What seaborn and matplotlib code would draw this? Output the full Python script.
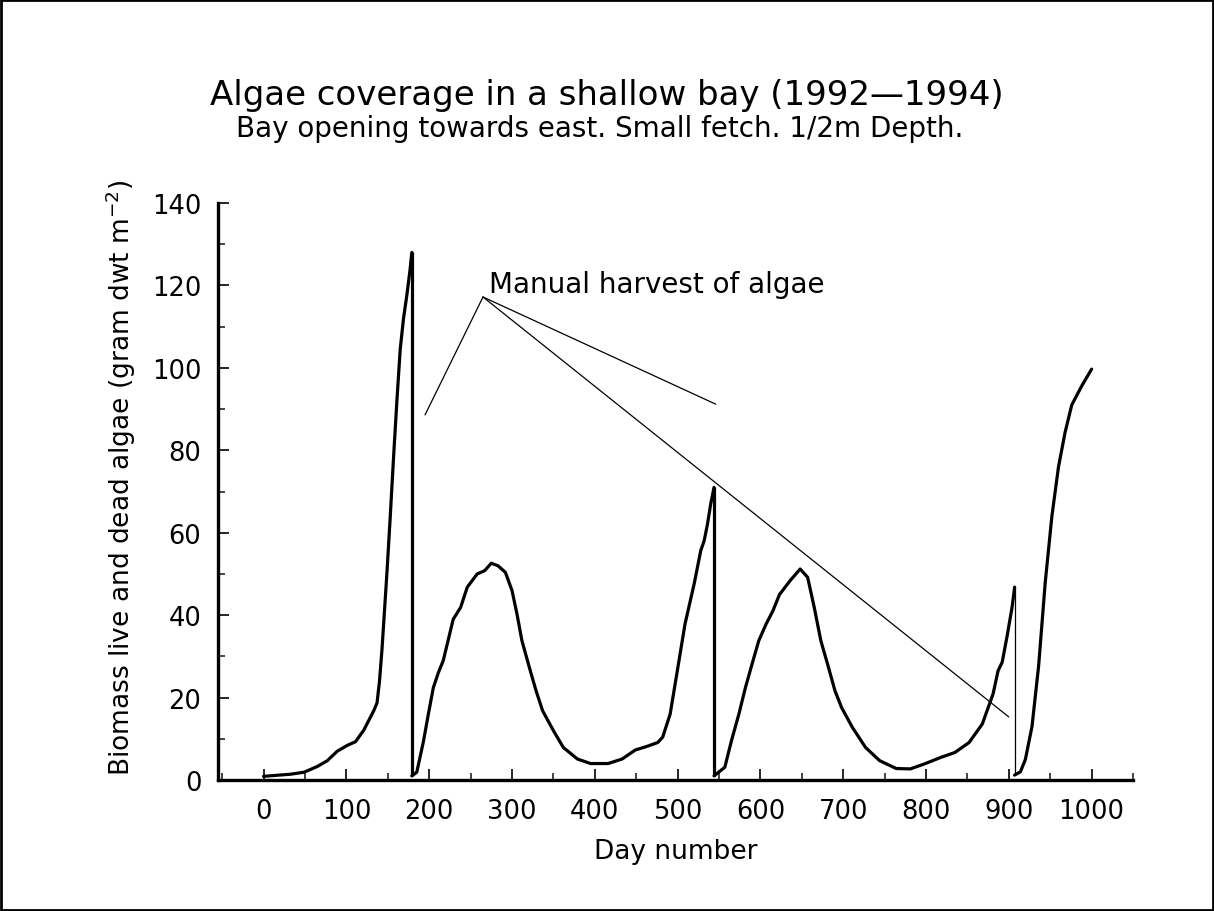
import matplotlib
matplotlib.use("Agg")
import matplotlib.pyplot as plt
import seaborn as sns
import pandas as pd
from matplotlib.patches import Rectangle

# ---- data ----
seg1_days = [0, 32, 49, 65, 77, 89, 101, 111, 121, 133, 137, 140, 143, 146, 149, 153, 157, 161,
             165, 169, 173, 177, 179]
seg1_vals = [0.9, 1.4, 1.9, 3.3, 4.7, 7.0, 8.4, 9.3, 12.1, 16.8, 18.7, 24, 31.7, 41, 50.4, 64,
             78.4, 92, 104.5, 112, 117.6, 124, 128]

seg2_days = [179, 185, 193, 199, 205, 211, 217, 223, 229, 238, 246, 258, 267, 275, 283, 292, 300,
             306, 312, 321, 329, 337, 350, 362, 379, 395, 416, 433, 449, 462, 476, 482, 491, 499,
             509, 520, 528, 532, 536, 540, 544]
seg2_vals = [1.0, 1.9, 9.3, 16, 22.4, 26, 29, 34, 39, 41.9, 46.8, 50, 50.8, 52.6, 52, 50.4, 46,
             40.3, 33.8, 27.3, 21.7, 16.8, 12, 7.9, 5.1, 4, 4, 5.1, 7.3, 8.1, 9.1, 10.4, 16, 25.7,
             37.9, 47.6, 55.7, 58, 62, 67, 71]

seg3_days = [544, 557, 565, 574, 582, 590, 598, 607, 615, 623, 636, 648, 657, 665, 673, 681, 690,
             698, 711, 727, 744, 764, 781, 798, 818, 835, 852, 868, 881, 887, 892, 898, 904, 907]
seg3_vals = [1.0, 3.1, 9.5, 16, 22.5, 28.2, 33.8, 37.9, 41, 45, 48.4, 51.2, 49.2, 41.9, 33.8, 28.2,
             21.7, 17.6, 12.8, 7.9, 4.7, 2.8, 2.7, 3.9, 5.5, 6.7, 9.1, 13.6, 20.9, 26.5, 28.6, 35,
             42, 46.8]

seg4_days = [907, 914, 920, 928, 936, 944, 952, 960, 968, 976, 988, 1000]
seg4_vals = [1.2, 2.0, 5, 13, 27.7, 48, 64, 76, 84.4, 91, 95.6, 99.7]

segments = [(seg1_days, seg1_vals), (seg2_days, seg2_vals), (seg3_days, seg3_vals), (seg4_days, seg4_vals)]

x_ticks = [0, 100, 200, 300, 400, 500, 600, 700, 800, 900, 1000]
y_ticks = [0, 20, 40, 60, 80, 100, 120, 140]

title = "Algae coverage in a shallow bay (1992\u20141994)"
subtitle = "Bay opening towards east. Small fetch. 1/2m Depth."
xlabel = "Day number"
ylabel = "Biomass live and dead algae (gram dwt m$^{-2}$)"
note_text = "Manual harvest of algae"
note_apex = (265, 117.2)
note_targets = [(195, 88.6), (546, 91.2), (900, 15.3)]

# ---- style ----
sns.set_theme(style="ticks")
plt.rcParams['font.family'] = ['DejaVu Sans']
plt.rcParams['mathtext.default'] = 'regular'

fig = plt.figure(figsize=(12.14, 9.12), dpi=100)
fig.patch.set_facecolor("white")
ax = fig.add_axes([0.1796, 0.1436, 0.7537, 0.6327])
ax.set_facecolor("white")

frames = []
for i, (d, v) in enumerate(segments):
    frames.append(pd.DataFrame({"day": d, "biomass": v, "seg": i}))
df = pd.concat(frames, ignore_index=True)

for i in range(len(segments)):
    sns.lineplot(data=df[df.seg == i], x="day", y="biomass", ax=ax, color="black",
                 linewidth=2.3, estimator=None, sort=False)

# harvest drops
drop_widths = [2.3, 2.3, 0.9]
for i in range(len(segments) - 1):
    d_prev, v_prev = segments[i]
    d_next, v_next = segments[i + 1]
    ax.vlines(d_prev[-1], v_next[0], v_prev[-1], color="black", linewidth=drop_widths[i])

# annotation
ax.text(note_apex[0] + 7, 120.4, note_text, fontsize=20, ha="left", va="center", color="black")
for tx, ty in note_targets:
    ax.annotate("", xy=(tx, ty), xytext=note_apex,
                arrowprops=dict(arrowstyle="-", color="black", lw=0.9, shrinkA=0, shrinkB=0))

ax.set_xlim(-55, 1050)
ax.set_ylim(0, 140)
ax.set_xticks(x_ticks)
ax.set_yticks(y_ticks)
ax.set_xticks(list(range(-50, 1051, 50)), minor=True)
ax.set_yticks(list(range(0, 141, 10)), minor=True)
ax.tick_params(axis="both", which="major", direction="in", length=8, width=1.2,
               labelsize=18.5, colors="black", pad=12)
ax.tick_params(axis="both", which="minor", direction="in", length=5, width=1.2)
ax.tick_params(axis="x", which="major", pad=13)

for s in ["top", "right"]:
    ax.spines[s].set_visible(False)
for s in ["left", "bottom"]:
    ax.spines[s].set_linewidth(2.4)
    ax.spines[s].set_color("black")

ax.set_xlabel(xlabel, fontsize=19, labelpad=10, color="black")
ax.set_ylabel(ylabel, fontsize=19, color="black")
ax.yaxis.set_label_coords(-0.088, 0.526)

fig.text(0.5, 0.895, title, fontsize=24.5, ha="center", va="center", color="black")
fig.text(0.494, 0.859, subtitle, fontsize=20, ha="center", va="center", color="black")

fig.patches.append(Rectangle((0.001, 0.001), 0.998, 0.998, transform=fig.transFigure,
                             fill=False, edgecolor="black", linewidth=2))

fig.savefig("out.png", dpi=100)
